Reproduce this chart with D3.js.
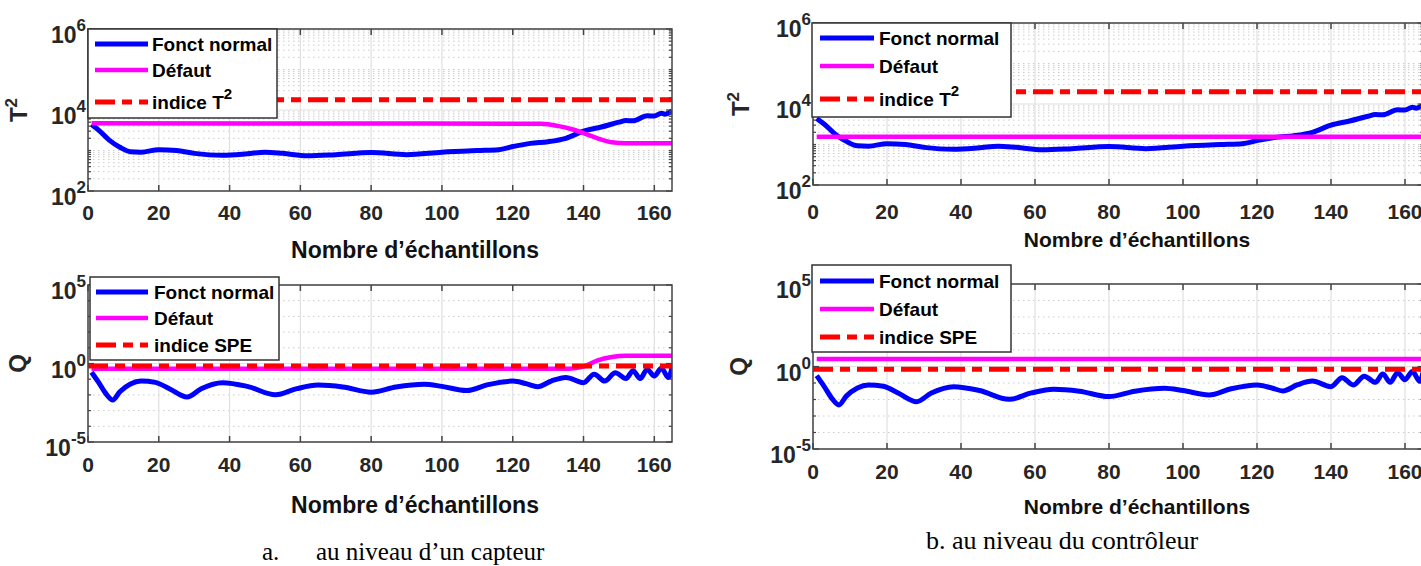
<!DOCTYPE html>
<html>
<head>
<meta charset="utf-8">
<script src="https://cdn.jsdelivr.net/npm/d3@7"></script>
<style>
body { margin: 0; background: #fff; }
text { font-family: Arial, "Liberation Sans", sans-serif; }
.caption { font-family: "Times New Roman", "Liberation Serif", serif; }
</style>
</head>
<body>
<svg id="fig"></svg>
<script>
// samples
let sampleT2 = [1, 3, 6, 9, 12, 15, 20, 25, 30, 38, 45, 50, 55, 62, 70, 80, 90, 100, 110, 116, 120, 125, 130, 135, 140, 145, 150, 152, 154, 158, 160, 162, 163, 165];
let normalT2 = [4400, 3200, 1800, 1200, 930, 910, 1050, 1000, 850, 760, 830, 910, 850, 740, 790, 890, 790, 910, 1000, 1050, 1250, 1500, 1650, 2000, 3000, 3800, 5000, 5500, 5400, 7200, 7100, 8300, 7900, 9500];

let sampleQ = [1, 3, 5, 7, 9, 12, 15, 19, 23, 28, 32, 38, 45, 53, 59, 65, 72, 80, 87, 95, 100, 107, 113, 120, 124, 127, 131, 135, 140, 143, 146, 149, 152, 154, 156, 158, 160, 162, 164, 165];
let normalQ = [0.28, 0.063, 0.0126, 0.0047, 0.016, 0.05, 0.076, 0.063, 0.025, 0.0074, 0.025, 0.06, 0.035, 0.0102, 0.025, 0.042, 0.032, 0.015, 0.032, 0.048, 0.035, 0.019, 0.045, 0.076, 0.05, 0.033, 0.079, 0.13, 0.06, 0.21, 0.076, 0.26, 0.11, 0.35, 0.11, 0.42, 0.16, 0.5, 0.126, 0.56];

// a. sensor fault
let faultSampleA_T2 = [1, 128, 133, 137, 140, 144, 148, 152, 165];
let faultA_T2 = [4700, 4570, 4000, 3300, 2700, 2000, 1600, 1500, 1500];
let faultSampleA_Q = [1, 136, 140, 144, 148, 152, 165];
let faultA_Q = [0.47, 0.47, 0.63, 1.6, 2.6, 3.1, 3.1];
let limitA_T2 = 18000;
let limitA_SPE = 0.7;

// b. controller fault
let faultSampleB = [1, 165];
let faultB_T2 = [1550, 1550];
let faultB_Q = [2.8, 2.8];
let limitB_T2 = 20000;
let limitB_SPE = 0.68;

let xTicks = [0, 20, 40, 60, 80, 100, 120, 140, 160];
let expT2 = [2, 4, 6];
let expQ = [-5, 0, 5];
let legendNames = ["Fonct normal", "Défaut"];

let svg = d3.select("#fig")
.attr("width", 1421)
.attr("height", 566);

let panels = [
  { id: "a1", left: 88, right: 672, top: 29, bottom: 191, exps: expT2, minorK: d3.range(1, 10), ylab: "T", ylabSup: "2", ylabX: 18,
    normX: sampleT2, norm: normalT2, faultX: faultSampleA_T2, fault: faultA_T2, limit: limitA_T2, limitName: "indice T", limitSup: "2",
    leg: { x: 88, y: 29, w: 189, h: 89, rows: [44, 70, 102], sx: 95, sw: 53, tx: 152 },
    tickY: 220, xlabX: 415, xlabY: 258, xlabSize: 23 },
  { id: "a2", left: 88, right: 672, top: 285, bottom: 442, exps: expQ, minorK: [1], ylab: "Q", ylabSup: "", ylabX: 17,
    normX: sampleQ, norm: normalQ, faultX: faultSampleA_Q, fault: faultA_Q, limit: limitA_SPE, limitName: "indice SPE", limitSup: "",
    leg: { x: 90, y: 277, w: 189, h: 83, rows: [292, 318, 345], sx: 96, sw: 52, tx: 154 },
    tickY: 472, xlabX: 415, xlabY: 513, xlabSize: 23 },
  { id: "b1", left: 813, right: 1423.5, top: 23, bottom: 185, exps: expT2, minorK: d3.range(1, 10), ylab: "T", ylabSup: "2", ylabX: 740,
    normX: sampleT2, norm: normalT2, faultX: faultSampleB, fault: faultB_T2, limit: limitB_T2, limitName: "indice T", limitSup: "2",
    leg: { x: 812, y: 23, w: 199, h: 94, rows: [38, 66, 99], sx: 820, sw: 54, tx: 879 },
    tickY: 219, xlabX: 1137, xlabY: 247, xlabSize: 21 },
  { id: "b2", left: 813, right: 1423.5, top: 284, bottom: 449, exps: expQ, minorK: [1], ylab: "Q", ylabSup: "", ylabX: 738,
    normX: sampleQ, norm: normalQ, faultX: faultSampleB, fault: faultB_Q, limit: limitB_SPE, limitName: "indice SPE", limitSup: "",
    leg: { x: 812, y: 265, w: 199, h: 87, rows: [281, 309, 337], sx: 820, sw: 54, tx: 879 },
    tickY: 479, xlabX: 1137, xlabY: 514, xlabSize: 21 }
];

let blue = "#0000ff", magenta = "#ff00ff", red = "#ff0000";
let dash = "20,7,10,7";

panels.forEach(p => {
  let x = d3.scaleLinear().domain([0, 165]).range([p.left, p.right]);
  let lo = p.exps[0], hi = p.exps[p.exps.length - 1];
  let y = d3.scaleLog().domain([Math.pow(10, lo), Math.pow(10, hi)]).range([p.bottom, p.top]);

  let majors = p.exps.map(e => Math.pow(10, e));
  let minors = [];
  for (let e = lo; e < hi; e++) {
    p.minorK.forEach(k => {
      if (k === 1 && p.exps.includes(e)) return;
      minors.push(k * Math.pow(10, e));
    });
  }

  let g = svg.append("g");

  g.append("clipPath")
  .attr("id", "clip-" + p.id)
  .append("rect")
  .attr("x", p.left)
  .attr("y", p.top)
  .attr("width", p.right - p.left)
  .attr("height", p.bottom - p.top);

  // grid
  g.selectAll(".hminor")
  .data(minors)
  .enter()
  .append("line")
  .attr("x1", p.left)
  .attr("x2", p.right)
  .attr("y1", d => y(d))
  .attr("y2", d => y(d))
  .attr("stroke", "#cccccc")
  .attr("stroke-width", 1)
  .attr("stroke-dasharray", "1.5,3.5");

  g.selectAll(".hmajor")
  .data(majors)
  .enter()
  .append("line")
  .attr("x1", p.left)
  .attr("x2", p.right)
  .attr("y1", d => y(d))
  .attr("y2", d => y(d))
  .attr("stroke", "#e0e0e0")
  .attr("stroke-width", 1.2);

  g.selectAll(".vmajor")
  .data(xTicks)
  .enter()
  .append("line")
  .attr("x1", d => x(d))
  .attr("x2", d => x(d))
  .attr("y1", p.top)
  .attr("y2", p.bottom)
  .attr("stroke", "#e0e0e0")
  .attr("stroke-width", 1.2);

  // series
  let lines = g.append("g").attr("clip-path", "url(#clip-" + p.id + ")");
  let line = d3.line()
  .x(d => x(d[0]))
  .y(d => y(d[1]))
  .curve(d3.curveMonotoneX);

  lines.append("path")
  .attr("d", line(d3.zip(p.normX, p.norm)))
  .attr("fill", "none")
  .attr("stroke", blue)
  .attr("stroke-width", 5)
  .attr("stroke-linejoin", "round");

  lines.append("path")
  .attr("d", line(d3.zip(p.faultX, p.fault)))
  .attr("fill", "none")
  .attr("stroke", magenta)
  .attr("stroke-width", 4.5);

  lines.append("path")
  .attr("d", line([[0, p.limit], [165, p.limit]]))
  .attr("fill", "none")
  .attr("stroke", red)
  .attr("stroke-width", 5)
  .attr("stroke-dasharray", dash);

  // frame and ticks
  g.append("rect")
  .attr("x", p.left)
  .attr("y", p.top)
  .attr("width", p.right - p.left)
  .attr("height", p.bottom - p.top)
  .attr("fill", "none")
  .attr("stroke", "#444")
  .attr("stroke-width", 1.5);

  xTicks.forEach(t => {
    g.append("line").attr("x1", x(t)).attr("x2", x(t)).attr("y1", p.bottom).attr("y2", p.bottom - 6)
    .attr("stroke", "#444").attr("stroke-width", 1.5);
    g.append("line").attr("x1", x(t)).attr("x2", x(t)).attr("y1", p.top).attr("y2", p.top + 6)
    .attr("stroke", "#444").attr("stroke-width", 1.5);
  });

  majors.concat(minors).forEach(v => {
    let len = majors.includes(v) ? 6 : 3;
    g.append("line").attr("x1", p.left).attr("x2", p.left + len).attr("y1", y(v)).attr("y2", y(v))
    .attr("stroke", "#444").attr("stroke-width", 1.2);
    g.append("line").attr("x1", p.right).attr("x2", p.right - len).attr("y1", y(v)).attr("y2", y(v))
    .attr("stroke", "#444").attr("stroke-width", 1.2);
  });

  // tick labels
  g.selectAll(".xt")
  .data(xTicks)
  .enter()
  .append("text")
  .attr("x", d => x(d))
  .attr("y", p.tickY)
  .attr("text-anchor", "middle")
  .attr("font-size", 21)
  .attr("font-weight", "bold")
  .attr("fill", "#262626")
  .text(d => d);

  p.exps.forEach(e => {
    let t = g.append("text")
    .attr("x", p.left - 2)
    .attr("y", y(Math.pow(10, e)) + 14)
    .attr("text-anchor", "end")
    .attr("font-weight", "bold")
    .attr("fill", "#262626");
    t.append("tspan").attr("font-size", 23).text("10");
    t.append("tspan").attr("font-size", 17).attr("dy", -12).text(e);
  });

  // axis labels
  let yl = g.append("text")
  .attr("transform", "translate(" + (p.ylabX + 9) + "," + ((p.top + p.bottom) / 2) + ") rotate(-90)")
  .attr("text-anchor", "middle")
  .attr("font-size", 24)
  .attr("font-weight", "bold")
  .attr("fill", "#262626");
  yl.append("tspan").text(p.ylab);
  if (p.ylabSup) yl.append("tspan").attr("font-size", 17).attr("dy", -10).text(p.ylabSup);

  g.append("text")
  .attr("x", p.xlabX)
  .attr("y", p.xlabY)
  .attr("text-anchor", "middle")
  .attr("font-size", p.xlabSize)
  .attr("font-weight", "bold")
  .attr("fill", "#111")
  .text("Nombre d’échantillons");

  // legend
  let L = p.leg;
  let lg = g.append("g");
  lg.append("rect")
  .attr("x", L.x)
  .attr("y", L.y)
  .attr("width", L.w)
  .attr("height", L.h)
  .attr("fill", "#fff")
  .attr("stroke", "#333")
  .attr("stroke-width", 1.5);

  let items = [
    { c: blue, w: 5, dash: null, name: legendNames[0], sup: "" },
    { c: magenta, w: 4.5, dash: null, name: legendNames[1], sup: "" },
    { c: red, w: 5, dash: dash, name: p.limitName, sup: p.limitSup }
  ];
  items.forEach((it, i) => {
    let ry = L.rows[i];
    lg.append("line")
    .attr("x1", L.sx)
    .attr("x2", L.sx + L.sw)
    .attr("y1", ry)
    .attr("y2", ry)
    .attr("stroke", it.c)
    .attr("stroke-width", it.w)
    .attr("stroke-dasharray", it.dash);
    let t = lg.append("text")
    .attr("x", L.tx)
    .attr("y", ry + 7)
    .attr("font-size", 19)
    .attr("font-weight", "bold")
    .attr("fill", "#000");
    t.append("tspan").text(it.name);
    if (it.sup) t.append("tspan").attr("font-size", 15).attr("dy", -10).text(it.sup);
  });
});

// captions
let ca = svg.append("text")
.attr("class", "caption")
.attr("y", 560)
.attr("font-size", 25)
.attr("fill", "#000");
ca.append("tspan").attr("x", 262).text("a.");
ca.append("tspan").attr("x", 316).text("au niveau d’un capteur");

svg.append("text")
.attr("class", "caption")
.attr("x", 1062)
.attr("y", 549)
.attr("text-anchor", "middle")
.attr("font-size", 26)
.attr("fill", "#000")
.text("b. au niveau du contrôleur");
</script>
</body>
</html>
